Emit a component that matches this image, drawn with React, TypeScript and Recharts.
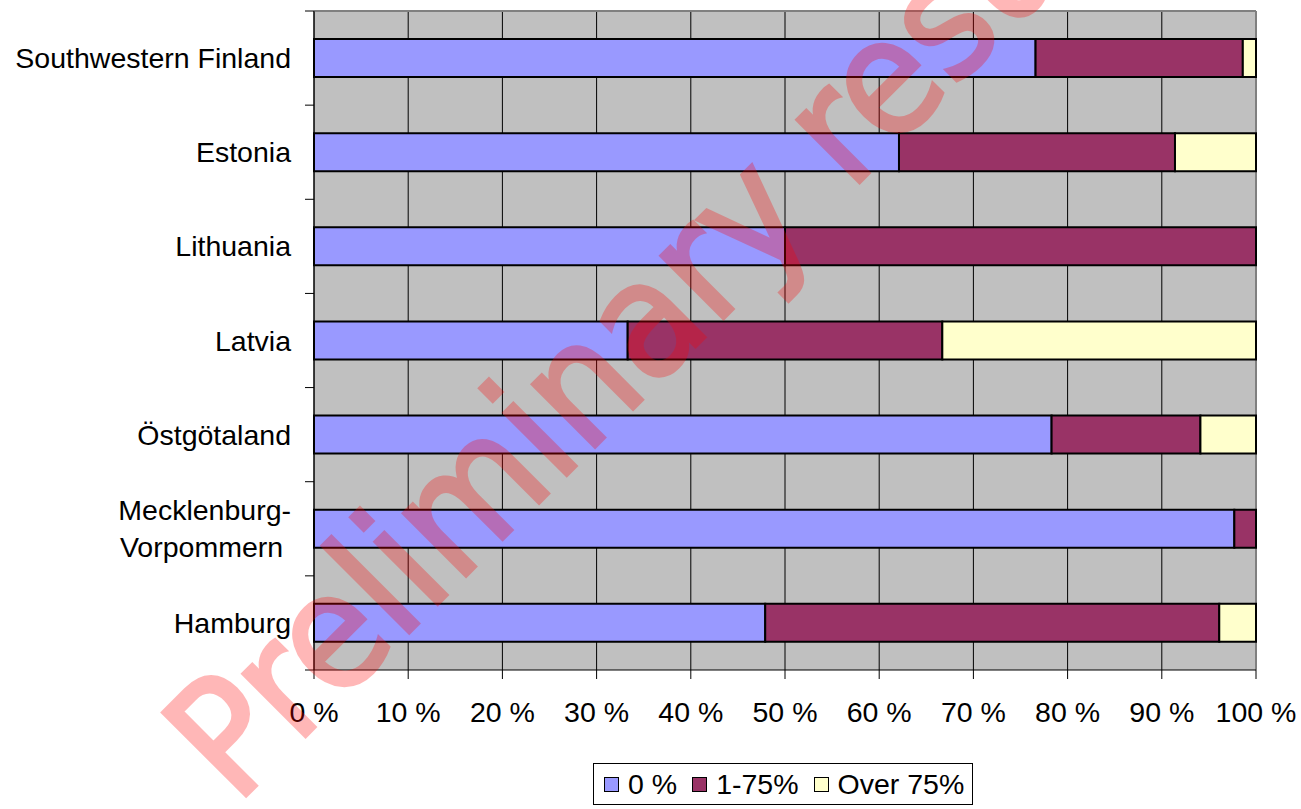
import React from 'react';
import {
  BarChart,
  Bar,
  XAxis,
  YAxis,
  CartesianGrid,
  Legend,
} from 'recharts';

const regions = [
  'Southwestern Finland',
  'Estonia',
  'Lithuania',
  'Latvia',
  'Östgötaland',
  'Mecklenburg-Vorpommern',
  'Hamburg',
];
const zeroShare = [76.6, 62.1, 50.0, 33.3, 78.3, 97.7, 47.9];
const midShare = [22.0, 29.3, 50.0, 33.4, 15.8, 2.3, 48.2];
const highShare = [1.4, 8.6, 0, 33.3, 5.9, 0, 3.9];
const xTicks = [0, 10, 20, 30, 40, 50, 60, 70, 80, 90, 100];

const seriesNames = ['0 %', '1-75%', 'Over 75%'];
const colors = ['#9999FF', '#993366', '#FFFFCC'];

const data = regions.map((name, i) => ({
  name,
  zero: zeroShare[i],
  mid: midShare[i],
  high: highShare[i],
}));

const W = 1301;
const H = 809;
const TOP = 11;
const PLOT_H = 659;
const BAND = PLOT_H / regions.length;
const FONT = 'Liberation Sans, Arial, sans-serif';
const FS = 28.5;

function RegionTick(props: any) {
  const { x, y, payload, index } = props;
  const label: string = payload.value;
  const lines = label.includes('-')
    ? [label.slice(0, label.indexOf('-') + 1), label.slice(label.indexOf('-') + 1) + '\u00a0']
    : [label];
  const lh = 37;
  const axisX = x + 23;
  return (
    <g>
      <line x1={axisX - 9} x2={axisX} y1={y - BAND / 2} y2={y - BAND / 2} stroke="#000" />
      {index === regions.length - 1 && (
        <line x1={axisX - 9} x2={axisX} y1={y + BAND / 2} y2={y + BAND / 2} stroke="#000" />
      )}
      <text
        x={x}
        y={y - ((lines.length - 1) * lh) / 2}
        textAnchor="end"
        dominantBaseline="central"
        fontSize={FS}
        fontFamily={FONT}
        fill="#000"
      >
        {lines.map((l, i) => (
          <tspan key={i} x={x} dy={i === 0 ? 0 : lh}>
            {l}
          </tspan>
        ))}
      </text>
    </g>
  );
}

function BoxLegend() {
  return (
    <div
      style={{
        border: '1px solid #000',
        height: 42,
        width: 380,
        boxSizing: 'border-box',
        display: 'flex',
        alignItems: 'center',
        paddingLeft: 10,
        fontFamily: FONT,
        fontSize: FS,
        color: '#000',
        background: '#fff',
        whiteSpace: 'nowrap',
      }}
    >
      {seriesNames.map((n, i) => (
        <div key={n} style={{ display: 'flex', alignItems: 'center', marginRight: 15, flexShrink: 0 }}>
          <span
            style={{
              width: 13,
              height: 13,
              background: colors[i],
              border: '1.5px solid #000',
              marginRight: 9,
              display: 'inline-block',
              flexShrink: 0,
            }}
          />
          <span style={{ lineHeight: '30px' }}>{n}</span>
        </div>
      ))}
    </div>
  );
}

export default function App() {
  return (
    <div style={{ position: 'absolute', left: 0, top: 0, width: W, height: H, background: '#fff', overflow: 'hidden' }}>
      <BarChart
        width={W}
        height={H}
        data={data}
        layout="vertical"
        margin={{ top: TOP, right: 45, left: 0, bottom: H - TOP - PLOT_H - 60 }}
        barSize={38}
      >
        <CartesianGrid horizontal={false} stroke="#000" fill="#C0C0C0" fillOpacity={1} />
        <CartesianGrid
          horizontalPoints={[TOP]}
          verticalPoints={[1256]}
          stroke="#808080"
          strokeWidth={2}
        />
        <XAxis
          type="number"
          domain={[0, 100]}
          ticks={xTicks}
          tickFormatter={(v) => `${v} %`}
          stroke="#000"
          tickSize={9}
          tickMargin={23}
          height={60}
          interval={0}
          tick={{ fill: '#000', fontSize: FS, fontFamily: FONT }}
        />
        <YAxis
          type="category"
          dataKey="name"
          width={314}
          stroke="#000"
          tickLine={false}
          tickSize={9}
          tickMargin={14}
          interval={0}
          tick={<RegionTick />}
        />
        <Legend
          layout="horizontal"
          verticalAlign="middle"
          align="center"
          wrapperStyle={{ top: 763, left: 593, width: 380, height: 42 }}
          content={() => <BoxLegend />}
        />
        <Bar dataKey="zero" name={seriesNames[0]} stackId="a" fill={colors[0]} stroke="#000" strokeWidth={2} isAnimationActive={false} />
        <Bar dataKey="mid" name={seriesNames[1]} stackId="a" fill={colors[1]} stroke="#000" strokeWidth={2} isAnimationActive={false} />
        <Bar dataKey="high" name={seriesNames[2]} stackId="a" fill={colors[2]} stroke="#000" strokeWidth={2} isAnimationActive={false} />
      </BarChart>
      <svg
        width={W}
        height={H}
        style={{ position: 'absolute', left: 0, top: 0, pointerEvents: 'none' }}
      >
        <g opacity={0.28}>
          <text
            x={236}
            y={806}
            transform="rotate(-45 236 806)"
            fontSize={162}
            fontFamily="DejaVu Sans Condensed, DejaVu Sans, sans-serif"
            fontStretch="condensed"
            fill="#FF0000"
            stroke="#FF0000"
            strokeWidth={3.5}
          >
            Preliminary results
          </text>
        </g>
      </svg>
    </div>
  );
}
